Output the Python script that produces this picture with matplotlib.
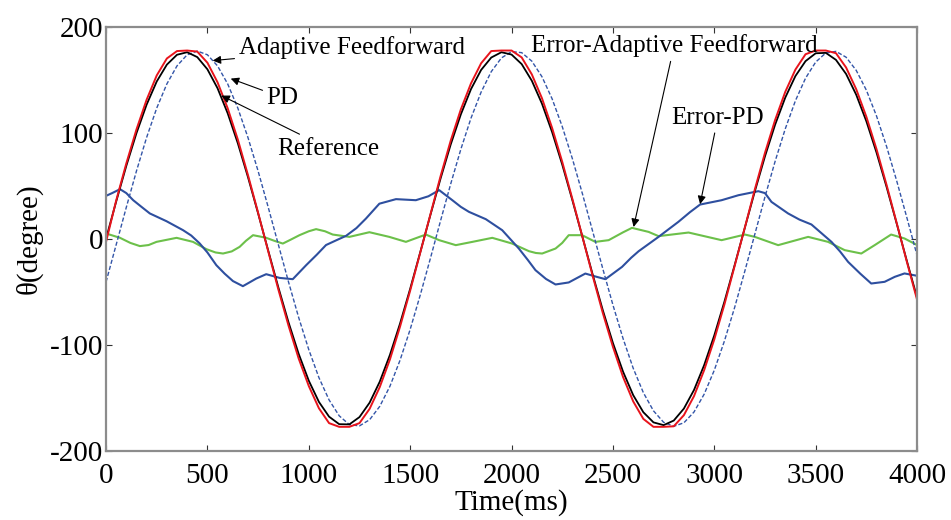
import numpy as np
import matplotlib.pyplot as plt

plt.rcParams['font.family'] = ['Liberation Serif', 'DejaVu Serif']
plt.rcParams['axes.unicode_minus'] = False

# time grid of the tracking curves (ms)
t = np.arange(0, 4001, 50)

reference = [0, 35.0, 68.7, 99.5, 126.4, 148.3, 164.2, 173.5, 175.9, 171.3,
             159.8, 141.9, 118.3, 90.0, 58.1, 23.9, -11.3, -46.0, -78.9, -108.6,
             -134.0, -154.0, -167.9, -175.0, -175.2, -168.3, -154.7, -134.9, -109.7, -80.1,
             -47.3, -12.6, 22.5, 56.8, 88.9, 117.3, 141.1, 159.2, 170.9, 175.9,
             173.7, 164.7, 149.0, 127.4, 100.6, 69.9, 36.3, 1.4, -33.7, -67.4,
             -98.4, -125.5, -147.6, -163.7, -173.3, -175.9, -171.6, -160.3, -142.7, -119.3,
             -91.2, -59.4, -25.2, 9.9, 44.7, 77.7, 107.6, 133.1, 153.4, 167.5,
             174.9, 175.3, 168.7, 155.4, 135.8, 110.8, 81.3, 48.6, 14.0, -21.2, -55.5]

adaptive_ff = [-3, 36, 71, 103, 131, 154, 170, 177, 177.5, 176.5,
               166, 147.5, 123, 93.5, 60, 24.5, -12, -48, -82, -113,
               -139, -160, -174, -177.5, -177.5, -174, -160.5, -140, -114, -83,
               -49, -13, 23, 59, 92.5, 122, 146.5, 165.5, 177, 177.5,
               177.5, 171, 155, 132.5, 104.5, 72.5, 37.5, 1.5, -35, -70,
               -102, -130.5, -153.5, -170, -177.5, -177.5, -177, -166.5, -148.5, -124,
               -95, -62, -26, 10, 46.5, 81, 112, 138.5, 159.5, 174,
               177.5, 177.5, 175, 161.5, 141, 115, 84.5, 50.5, 14.5, -22, -57.5]

pd_ctrl = [-40.8, -5.7, 29.6, 63.8, 95.4, 123.2, 146.0, 163.0, 173.5, 177.0,
           173.5, 163.0, 146.0, 123.2, 95.4, 63.8, 29.6, -5.7, -40.8, -74.3,
           -104.7, -131.1, -152.1, -167.1, -175.4, -176.6, -170.8, -158.2, -139.3, -114.7,
           -85.6, -53.0, -18.4, 17.0, 51.7, 84.4, 113.7, 138.3, 157.6, 170.5,
           176.5, 175.5, 167.5, 152.8, 132.0, 105.8, 75.5, 42.1, 7.0, -28.3,
           -62.5, -94.2, -122.2, -145.2, -162.4, -173.2, -177.0, -173.7, -163.5, -146.7,
           -124.1, -96.5, -65.1, -31.0, 4.3, 39.5, 73.0, 103.6, 130.1, 151.4,
           166.6, 175.2, 176.7, 171.2, 158.8, 140.1, 115.8, 86.8, 54.3, 19.7, -15.7]

# error curves
t_err_pd = [0, 30, 69, 100, 134, 175, 216, 298, 380, 420,
            462, 500, 544, 585, 626, 675, 710, 741, 790, 856,
            921, 987, 1040, 1085, 1130, 1184, 1235, 1282, 1348, 1430,
            1528, 1590, 1643, 1708, 1750, 1790, 1873, 1954, 2036, 2080,
            2118, 2170, 2217, 2282, 2364, 2420, 2463, 2545, 2590, 2627,
            2725, 2823, 2880, 2930, 3036, 3119, 3217, 3250, 3282, 3364,
            3420, 3479, 3578, 3620, 3660, 3720, 3774, 3840, 3890, 3938, 4000]
err_pd = [40.4, 43, 46.7, 43, 36.3, 30, 23.8, 16.5, 8, 3,
          -4.5, -13, -25, -33, -40, -44.8, -41, -37.6, -33.5, -37,
          -38.2, -25, -15, -6, -2, 2.7, 10, 19, 33, 37.3,
          36.3, 40, 45.8, 36.3, 30, 25.3, 18.4, 8, -9.3, -20,
          -29.7, -38, -43.2, -41.3, -32.9, -36, -38.2, -26.6, -18, -11.8,
          1.7, 15.9, 25, 32.2, 36.3, 41, 44.8, 43, 34.7, 23.8,
          18, 13.4, -3, -12, -21.9, -33, -42.3, -40.7, -36, -32.8, -35]

t_err_af = [0, 69, 120, 167, 210, 249, 348, 429, 495, 540,
            577, 620, 659, 690, 725, 760, 790, 830, 872, 910,
            954, 1000, 1036, 1080, 1118, 1200, 1299, 1397, 1479, 1577,
            1643, 1725, 1807, 1905, 2003, 2086, 2120, 2151, 2217, 2250,
            2282, 2348, 2413, 2479, 2550, 2594, 2676, 2725, 2873, 3036,
            3151, 3200, 3315, 3463, 3561, 3643, 3725, 3791, 3872, 3938, 4000]
err_af = [4.9, 0.8, -4, -7, -6, -3, 0.8, -3, -9.9, -13,
          -14, -12, -7.7, -2, 3.3, 2, 0.8, -2, -4.6, -1,
          3.3, 7, 9, 7, 3.9, 1.7, 6.1, 1.7, -3, 3.9,
          -1.4, -6.1, -3, 0.8, -4.6, -11.8, -13.5, -14, -9.3, -4,
          3.3, 3.3, -3, -1.4, 6, 10.2, 6.4, 2.4, 5.8, -1.4,
          3.9, 1.7, -6.1, 1.7, -3, -10.8, -14, -6.1, 3.9, 0.2, -6]

fig = plt.figure(figsize=(9.51, 5.2), dpi=100)
ax = fig.add_axes([0.1115, 0.1333, 0.8528, 0.8154])

ax.plot(t_err_af, err_af, color='#6cc04a', lw=1.5)
ax.plot(t_err_pd, err_pd, color='#2e4f9f', lw=1.5)
ax.plot(t, pd_ctrl, color='#3355a8', lw=1.0, ls=(0, (3, 1.5)))
ax.plot(t, reference, color='black', lw=1.3)
ax.plot(t, adaptive_ff, color='#e8141c', lw=1.4)

ax.set_xlim(0, 4000)
ax.set_ylim(-200, 200)
ax.set_xticks(np.arange(0, 4001, 500))
ax.set_yticks([-200, -100, 0, 100, 200])
ax.tick_params(direction='in', top=True, right=True, length=4, width=0.8,
               labelsize=21, pad=2, color='#333333')
ax.tick_params(axis='x', pad=9)
for s in ax.spines.values():
    s.set_color('#8c8c8c')
    s.set_linewidth(1.6)

ax.set_xlabel('Time(ms)', fontsize=21, labelpad=0)
ax.set_ylabel('θ(degree)', fontsize=21, labelpad=5)

arrow = dict(arrowstyle='-|>', color='black', lw=0.8, mutation_scale=12,
             shrinkA=1, shrinkB=0)
txt = dict(fontsize=18, ha='left', va='center')
ax.annotate('Adaptive Feedforward', xy=(526, 168), xytext=(654, 180),
            arrowprops=arrow, **txt)
ax.annotate('PD', xy=(615, 151), xytext=(792, 133), arrowprops=arrow, **txt)
ax.annotate('Reference', xy=(569, 135), xytext=(846, 85), arrowprops=arrow, **txt)
ax.annotate('Error-Adaptive Feedforward', xy=(2602, 11), xytext=(2095, 182),
            arrowprops=arrow, **txt)
ax.annotate('Error-PD', xy=(2930, 32.5), xytext=(2789, 114),
            arrowprops=arrow, **txt)

fig.savefig('out.png', dpi=100)
